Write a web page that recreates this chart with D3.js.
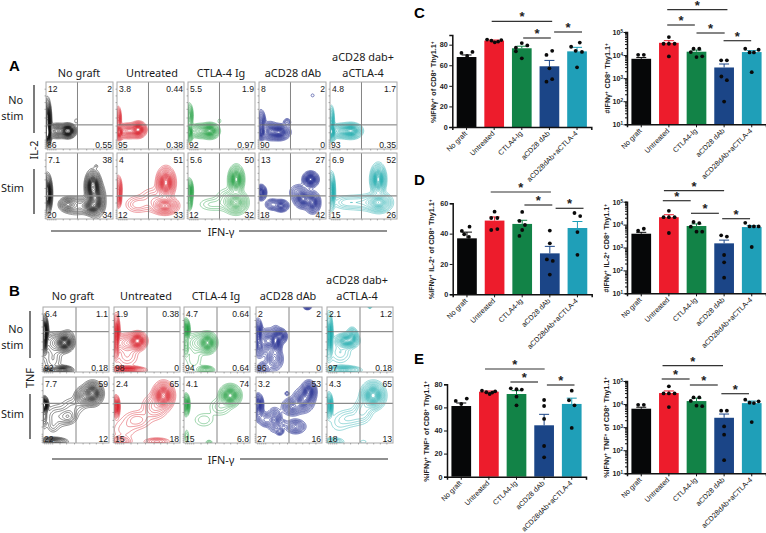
<!DOCTYPE html>
<html lang="en">
<head>
<meta charset="UTF-8">
<title>IFN-gamma T cell responses</title>
<script src="https://d3js.org/d3.v7.min.js"></script>
<style>
  body { margin: 0; background: #fff; }
  svg { display: block; }
  text { font-family: "Liberation Sans", Arial, sans-serif; fill: #1a1a1a; }
  .head { font-family: "Noto Sans", sans-serif; font-size: 10.9px; }
  .pct { font-size: 8.6px; }
  .letter { font-size: 15px; font-weight: 700; fill: #000; }
  .tick text, .ylab { font-size: 7.2px; font-weight: 700; fill: #222; }
  .cat .tick text { font-size: 7.2px; font-weight: 400; fill: #111; }
  .star { font-size: 13px; font-weight: 700; text-anchor: middle; fill: #222; }
</style>
</head>
<body>
<script>
// ---- flow cytometry panels ----
const facsGroups = ['No graft', 'Untreated', 'CTLA-4 Ig', 'aCD28 dAb', 'aCTLA-4'];
const facsColors = ['#111111', '#d9232e', '#25a044', '#2f3796', '#1faaac'];

// quadrant percentages: top left, top right, bottom left, bottom right
const aNoStimPct = [['12','2','86','0.55'],['3.8','0.44','95','0.38'],['5.5','1.9','92','0.97'],['8','2','90','0'],['4.8','1.7','93','0.35']];
const aStimPct = [['7.1','38','20','34'],['4','51','12','33'],['5.6','50','12','32'],['13','27','18','42'],['6.9','52','15','26']];
const bNoStimPct = [['6.4','1.1','92','0.18'],['1.9','0.38','98','0'],['4.7','0.64','94','0.64'],['2','2','96','0'],['2.1','1.2','97','0.18']];
const bStimPct = [['7.7','59','22','12'],['2.4','65','15','18'],['4.1','74','15','6.8'],['3.2','53','27','16'],['4.3','65','18','13']];

// density peaks: [x, y, spread x, spread y, height], axes 0-1
const aNoStimPeaks = [
  [[.02,.4,.025,.14,1.4],[.02,.22,.025,.06,1],[.33,.27,.05,.045,1.2],[.17,.27,.08,.05,.5],[.45,.42,.02,.03,.05]],
  [[.02,.45,.02,.08,.5],[.03,.25,.03,.05,.9],[.32,.29,.05,.05,1],[.17,.27,.08,.05,.55]],
  [[.02,.5,.025,.08,.5],[.02,.25,.025,.06,.8],[.33,.27,.06,.05,.9],[.18,.27,.08,.05,.4],[.47,.42,.02,.03,.05]],
  [[.03,.4,.03,.08,.5],[.03,.25,.03,.05,.7],[.3,.25,.07,.05,.9],[.16,.27,.06,.06,.5],[.42,.4,.03,.03,.15],[.8,.8,.025,.025,.045]],
  [[.02,.42,.02,.1,.5],[.02,.25,.03,.06,.9],[.32,.27,.07,.05,.9],[.17,.27,.08,.05,.45]]
];
const aStimPeaks = [
  [[.02,.38,.03,.12,1.4],[.32,.22,.06,.05,.4],[.7,.5,.05,.1,1.1],[.68,.2,.07,.06,.7],[.75,.3,.06,.12,.6],[.45,.2,.1,.07,.2],[.75,.8,.02,.02,.05]],
  [[.02,.45,.025,.09,.5],[.02,.3,.02,.06,.4],[.73,.55,.06,.1,1],[.72,.2,.09,.06,.6],[.55,.3,.12,.1,.12],[.3,.22,.1,.07,.12]],
  [[.02,.42,.025,.08,.8],[.02,.25,.02,.06,.3],[.72,.6,.05,.09,1],[.72,.25,.08,.08,.6],[.58,.3,.1,.1,.1],[.35,.22,.12,.06,.08]],
  [[.03,.4,.035,.05,.8],[.33,.2,.05,.04,.6],[.2,.22,.05,.04,.3],[.77,.6,.05,.05,1],[.66,.3,.06,.06,.8],[.8,.25,.05,.07,.8],[.6,.4,.07,.06,.25]],
  [[.02,.42,.025,.12,.9],[.72,.6,.05,.1,1],[.73,.25,.09,.07,.6],[.5,.25,.12,.07,.12],[.25,.25,.12,.06,.12]]
];
const bNoStimPeaks = [
  [[.02,.62,.025,.1,1.4],[.02,.42,.02,.08,.5],[.33,.45,.06,.06,.9],[.2,.45,.1,.08,.25],[.15,.2,.08,.12,.1],[.3,.03,.07,.03,.6],[.1,.02,.08,.02,.3],[.38,.55,.05,.06,.1]],
  [[.03,.6,.025,.12,1],[.03,.35,.02,.08,.3],[.36,.48,.06,.06,1],[.2,.45,.1,.07,.3],[.2,.25,.1,.1,.1],[.2,.03,.12,.025,.8]],
  [[.03,.65,.025,.07,1],[.03,.4,.02,.08,.25],[.36,.45,.06,.07,.9],[.22,.45,.1,.08,.2],[.15,.2,.08,.12,.07],[.33,.03,.06,.03,.4]],
  [[.03,.6,.03,.09,.8],[.05,.4,.04,.08,.5],[.3,.48,.04,.09,.9],[.38,.55,.04,.05,.6],[.18,.48,.07,.08,.6],[.28,.2,.06,.08,.4],[.12,.05,.05,.05,.3],[.78,1,.03,.02,.3]],
  [[.03,.55,.025,.15,1],[.3,.48,.08,.05,.8],[.38,.55,.04,.06,.5],[.2,.3,.1,.1,.1],[.25,.03,.12,.03,.5],[.65,1,.02,.015,.1]]
];
const bStimPeaks = [
  [[.02,.58,.025,.05,1.5],[.02,.42,.02,.1,.2],[.75,.75,.07,.08,.9],[.6,.7,.06,.07,.35],[.38,.4,.07,.06,.2],[.2,.4,.1,.1,.12],[.15,.25,.05,.06,.06],[.15,.02,.1,.03,.5],[.45,.55,.1,.08,.1]],
  [[.03,.55,.025,.07,1],[.75,.72,.07,.09,1],[.62,.55,.1,.1,.2],[.35,.35,.12,.08,.12],[.15,.2,.12,.1,.06],[.65,.02,.1,.03,.2],[.1,.02,.08,.04,.25]],
  [[.03,.58,.025,.07,.9],[.7,.72,.07,.07,1],[.55,.55,.1,.08,.1],[.3,.35,.1,.07,.07],[.04,.1,.02,.06,.1],[.38,.01,.03,.02,.1]],
  [[.03,.58,.035,.07,.9],[.05,.42,.04,.05,.3],[.72,.65,.07,.08,.7],[.8,.78,.05,.07,.8],[.55,.55,.07,.06,.5],[.28,.35,.05,.08,.5],[.15,.35,.05,.05,.3],[.6,.25,.07,.05,.4],[.36,.18,.03,.03,.25],[.47,.75,.02,.02,.1],[.42,.3,.03,.03,.1]],
  [[.03,.57,.025,.08,.9],[.7,.72,.08,.09,1],[.55,.5,.08,.1,.15],[.36,.38,.12,.08,.1],[.18,.3,.1,.1,.05],[.55,.02,.04,.02,.05],[.1,.02,.08,.03,.2]]
];
const contourLevels = [.03, .05, .075, .1, .14, .18, .23, .28, .33, .38, .42, .46, .5, .54, .58, .62, .66, .7, .74, .78, .82, .86, .9, .94, 1, 1.1, 1.2, 1.3];
const facsTicks = [.02, .05, .08, .11, .14, .25, .35, .47, .6, .7, .8, .9];

// ---- bar charts ----
const categories = ['No graft', 'Untreated', 'CTLA4-Ig', 'aCD28 dAb', 'aCD28dAb+aCTLA-4'];
const barColors = ['#060708', '#ed1c2c', '#128347', '#1b4587', '#1f9fb8'];

const cPctMeans = [68, 84, 76.5, 59, 73.5];
const cPctTops = [70, 84.5, 78.5, 64.7, 77.4];
const cPctPoints = [
  [[72,-.26],[69,.03],[73,.3]],
  [[85,-.36],[84,-.14],[82.3,.03],[83,.2],[84.5,.36]],
  [[77,-.3],[81.6,0],[79.3,.28],[73.5,-.3],[66.7,0]],
  [[70,-.15],[74,.14],[57,0],[44,-.15],[46.5,.14]],
  [[78,-.3],[82,.14],[74,-.07],[73,.25],[58,0]]
];
const cNumMeans = [6900, 34000, 14000, 2900, 13500];
const cNumTops = [7800, 42000, 16500, 4100, 15600];
const cNumPoints = [
  [[10300,-.16],[10300,.13]],
  [[60000,0],[31000,-.27],[31000,0],[31000,.29],[8700,0]],
  [[18800,-.15],[18800,.14],[13500,-.29],[8200,0],[8800,.29]],
  [[5900,-.15],[5900,.14],[1180,-.14],[820,.14],[97,0]],
  [[18800,-.33],[13000,-.11],[13000,.11],[17000,.35],[1820,0]]
];
const dPctMeans = [36.9, 48.6, 46.4, 27, 43.7];
const dPctTops = [41, 51, 48.8, 31.6, 48];
const dPctPoints = [
  [[41.8,-.26],[44.6,.13],[39.6,-.14],[37.8,.1]],
  [[54.5,0],[50.3,-.17],[50.3,.14],[42.4,-.17],[43,.14]],
  [[54.3,0],[48.4,-.14],[45.7,.14],[42.4,0],[38.5,-.14]],
  [[42,0],[33.6,0],[23,-.15],[22,.15],[13,0]],
  [[53.6,-.15],[51.6,.14],[41,0],[26,0]]
];
const dNumMeans = [4000, 21000, 8700, 1520, 7800];
const dNumTops = [4600, 27000, 10700, 2100, 9000];
const dNumPoints = [
  [[5400,-.16],[6600,.13]],
  [[40000,0],[21000,-.27],[21000,0],[21000,.29],[4300,0]],
  [[13000,-.15],[11700,.14],[8100,-.29],[4900,0],[4900,.29]],
  [[3400,-.15],[3000,.14],[470,0],[225,0],[48,0]],
  [[12000,-.33],[8300,-.11],[8300,.11],[8300,.35],[1050,0]]
];
const ePctMeans = [61.2, 73.6, 71.6, 44.5, 63];
const ePctTops = [63.8, 74.2, 74.5, 54, 68];
const ePctPoints = [
  [[65.6,-.28],[67.6,.28],[63,0]],
  [[74.5,-.35],[73.1,-.13],[71.6,.04],[72.8,.17],[73.9,.32]],
  [[76.5,-.29],[75.7,0],[75.4,.27],[69.3,0],[61.8,0]],
  [[66.4,0],[61.2,0],[50,0],[26.6,0],[16.8,0]],
  [[74.5,0],[66.2,-.14],[61.8,.14],[42.2,0]]
];
const eNumMeans = [6300, 30000, 13500, 2550, 11000];
const eNumTops = [7300, 37000, 18000, 3700, 13500];
const eNumPoints = [
  [[9300,-.16],[9300,.13]],
  [[59000,0],[29000,-.27],[29000,0],[29000,.29],[7400,0]],
  [[19500,-.15],[19500,.14],[13700,-.29],[8500,0],[8100,.29]],
  [[5200,-.15],[5200,.14],[1070,0],[470,0],[37,0]],
  [[15500,-.33],[11500,-.11],[11000,.11],[13200,.35],[1660,0]]
];

const width = 766, height = 533;
const svg = d3.select('body').append('svg').attr('width', width).attr('height', height);
// the source figure is a soft raster, so the contour lines get a touch of blur
svg.append('filter').attr('id', 'soft').append('feGaussianBlur').attr('stdDeviation', .25);

function facsPlot(x0, y0, w, h, color, peaks, pcts, hy, vx, thick, heavyLine) {
  const g = svg.append('g');
  const sx = d3.scaleLinear().domain([0, 1]).range([x0, x0 + w]);
  const sy = d3.scaleLinear().domain([0, 1]).range([y0 + h, y0]);

  // density grid from the peaks, then real contours through it
  const n = 90;
  const grid = new Float64Array(n * n);
  for (let j = 0; j < n; j++) {
    for (let i = 0; i < n; i++) {
      const px = (i + .5) / n, py = (j + .5) / n;
      let sum = 0;
      peaks.forEach(p => {
        const dx = (px - p[0]) / p[2], dy = (py - p[1]) / p[3];
        sum += p[4] * Math.exp(-(dx * dx + dy * dy) / 2);
      });
      grid[i + j * n] = sum;
    }
  }
  const contours = d3.contours().size([n, n]).thresholds(contourLevels)(grid);
  const proj = d3.geoTransform({ point(x, y) { this.stream.point(sx(x / n), sy(y / n)); } });
  const clipId = 'c' + Math.round(x0) + '_' + Math.round(y0);
  g.append('clipPath').attr('id', clipId).append('rect')
    .attr('x', x0).attr('y', y0).attr('width', w).attr('height', h);
  g.append('g').attr('clip-path', `url(#${clipId})`)
    .append('g').attr('filter', 'url(#soft)')
    .selectAll('path').data(contours).enter().append('path')
    .attr('d', d3.geoPath(proj))
    .attr('fill', 'none')
    .attr('stroke', color)
    .attr('stroke-opacity', .9)
    .attr('stroke-width', thick ? .7 : .5);

  g.append('line').attr('x1', sx(0)).attr('x2', sx(1)).attr('y1', sy(hy)).attr('y2', sy(hy))
    .attr('stroke', heavyLine ? '#8a8a8a' : '#666').attr('stroke-width', heavyLine ? 1.4 : .9);
  g.append('line').attr('x1', sx(vx)).attr('x2', sx(vx)).attr('y1', sy(0)).attr('y2', sy(1))
    .attr('stroke', '#777').attr('stroke-width', .9);
  g.append('rect').attr('x', x0).attr('y', y0).attr('width', w).attr('height', h)
    .attr('fill', 'none').attr('stroke', '#a8a8a8').attr('stroke-width', 1);

  // little log ticks along the bottom and left edge
  const bottom = g.append('g').attr('transform', `translate(0,${y0 + h})`)
    .call(d3.axisBottom(sx).tickValues(facsTicks).tickSize(1.5).tickFormat(''));
  const left = g.append('g').attr('transform', `translate(${x0},0)`)
    .call(d3.axisLeft(sy).tickValues(facsTicks).tickSize(1.5).tickFormat(''));
  bottom.select('.domain').remove(); left.select('.domain').remove();
  g.selectAll('.tick line').attr('stroke', '#666').attr('stroke-width', .5);

  g.append('text').attr('class', 'pct').attr('x', x0 + 2).attr('y', y0 + 9.5).text(pcts[0]);
  g.append('text').attr('class', 'pct').attr('x', x0 + w - 1).attr('y', y0 + 9.5).attr('text-anchor', 'end').text(pcts[1]);
  g.append('text').attr('class', 'pct').attr('x', x0 + 1).attr('y', y0 + h - 1.5).text(pcts[2]);
  g.append('text').attr('class', 'pct').attr('x', x0 + w - 1).attr('y', y0 + h - 1.5).attr('text-anchor', 'end').text(pcts[3]);
}

function facsPanel(p) {
  p.xs.forEach((x0, k) => {
    facsPlot(x0, p.y1, p.w, p.h, facsColors[k], p.noStimPeaks[k], p.noStimPct[k], p.hy1, p.vx, k == 3, false);
    facsPlot(x0, p.y2, p.w, p.h2, facsColors[k], p.stimPeaks[k], p.stimPct[k], p.hy2, p.vx, k == 3, true);
    svg.append('text').attr('class', 'head').attr('x', p.headX[k]).attr('y', p.headY)
      .attr('text-anchor', 'middle').text(facsGroups[k]);
  });
  svg.append('text').attr('class', 'head').attr('x', p.headX[4]).attr('y', p.headY - 16.5)
    .attr('text-anchor', 'middle').text('aCD28 dab+');
  svg.append('text').attr('class', 'letter').attr('x', 9).attr('y', p.letterY).text(p.letter);

  svg.append('text').attr('class', 'head').attr('x', 23).attr('y', p.noY).attr('text-anchor', 'end').text('No');
  svg.append('text').attr('class', 'head').attr('x', 23.5).attr('y', p.noY + 16).attr('text-anchor', 'end').text('stim');
  svg.append('text').attr('class', 'head').attr('x', 24).attr('y', p.stimY).attr('text-anchor', 'end').text('Stim');
  svg.append('text').attr('class', 'head')
    .attr('transform', `translate(${p.sideX + 4},${p.sideY}) rotate(-90)`)
    .attr('text-anchor', 'middle').text(p.side);

  p.vbars.forEach(b => {
    svg.append('line').attr('x1', p.sideX).attr('x2', p.sideX).attr('y1', b[0]).attr('y2', b[1])
      .attr('stroke', '#222').attr('stroke-width', 1.2);
  });
  p.hbars.forEach(b => {
    svg.append('line').attr('x1', b[0]).attr('x2', b[1]).attr('y1', p.bottomY).attr('y2', p.bottomY)
      .attr('stroke', '#222').attr('stroke-width', 1.2);
  });
  svg.append('text').attr('class', 'head').attr('x', p.ifnX).attr('y', p.bottomY + 4.5)
    .attr('text-anchor', 'middle').text('IFN-γ');
}

facsPanel({
  letter: 'A', letterY: 71, xs: [46, 117, 188, 259, 330], w: 67, y1: 82, h: 67, y2: 153, h2: 66,
  hy1: .36, hy2: .35, vx: .47, noStimPeaks: aNoStimPeaks, stimPeaks: aStimPeaks, noStimPct: aNoStimPct, stimPct: aStimPct,
  headX: [79, 152, 221, 293, 363], headY: 77, noY: 104, stimY: 192, side: 'IL-2', sideX: 34, sideY: 150,
  vbars: [[85, 133], [169, 214]], hbars: [[51, 201], [239, 387]], bottomY: 231, ifnX: 221
});
facsPanel({
  letter: 'B', letterY: 296, xs: [43, 114, 184, 256, 327], w: 66, y1: 307, h: 65, y2: 377, h2: 66,
  hy1: .62, hy2: .6, vx: .5, noStimPeaks: bNoStimPeaks, stimPeaks: bStimPeaks, noStimPct: bNoStimPct, stimPct: bStimPct,
  headX: [73, 146, 216, 288, 357], headY: 300, noY: 333, stimY: 418, side: 'TNF', sideX: 30, sideY: 378,
  vbars: [[311, 358], [394, 439]], hbars: [[52, 202], [240, 388]], bottomY: 459, ifnX: 221
});

function barChart(c) {
  const g = svg.append('g');
  const x = d3.scaleBand().domain(categories).range([c.axisX, c.axisX + 139])
    .paddingInner(.287).paddingOuter(.16);
  const y = c.log
    ? d3.scaleLog().domain([10, 1e5]).range([c.base, c.top])
    : d3.scaleLinear().domain([0, c.max]).range([c.base, c.top]);
  const center = i => x(categories[i]) + x.bandwidth() / 2;
  const step = x.step();

  g.selectAll('.bar').data(c.means).enter().append('rect').attr('class', 'bar')
    .attr('x', (d, i) => x(categories[i])).attr('width', x.bandwidth())
    .attr('y', d => y(d)).attr('height', d => c.base - y(d))
    .attr('fill', (d, i) => barColors[i]);

  // upper error whiskers
  c.tops.forEach((t, i) => {
    g.append('path')
      .attr('d', `M${center(i)},${y(c.means[i])}V${y(t)}M${center(i) - 5},${y(t)}H${center(i) + 5}`)
      .attr('fill', 'none').attr('stroke', barColors[i]).attr('stroke-width', 1);
  });

  c.points.forEach((pts, i) => {
    g.selectAll(null).data(pts).enter().append('circle')
      .attr('cx', d => center(i) + d[1] * x.bandwidth())
      .attr('cy', d => y(d[0])).attr('r', 1.9).attr('fill', '#0a0a0a');
  });

  const xAxis = g.append('g').attr('class', 'cat').attr('transform', `translate(0,${c.base})`)
    .call(d3.axisBottom(x).tickSize(3));
  xAxis.selectAll('text').style('text-anchor', 'end')
    .attr('x', -4.25).attr('y', 5.65).attr('dy', 0).attr('transform', 'rotate(-45)');

  let yAxis;
  if (c.log) {
    const ticks = [];
    [1, 2, 3, 4].forEach(e => d3.range(1, 10).forEach(m => ticks.push(m * 10 ** e)));
    ticks.push(1e5);
    yAxis = g.append('g').attr('transform', `translate(${c.axisX},0)`)
      .call(d3.axisLeft(y).tickValues(ticks).tickSize(2).tickPadding(1.5).tickFormat(''));
    yAxis.selectAll('.tick').filter(d => Math.abs(Math.log10(d) % 1) < 1e-9).each(function (d) {
      const t = d3.select(this);
      t.select('line').attr('x2', -3.5);
      const label = t.select('text').attr('x', -4).text('10');
      label.append('tspan').attr('dy', -2).style('font-size', '4.6px').text(Math.round(Math.log10(d)));
    });
  } else {
    yAxis = g.append('g').attr('transform', `translate(${c.axisX},0)`)
      .call(d3.axisLeft(y).tickValues(c.ticks).tickSize(3).tickPadding(1.5).tickFormat(d3.format('d')));
  }
  g.selectAll('.domain').attr('stroke', '#111').attr('stroke-width', 1.5);
  g.selectAll('.tick line').attr('stroke', '#111').attr('stroke-width', 1);

  const lab = g.append('text').attr('class', 'ylab')
    .attr('transform', `translate(${c.labX},${c.labY}) rotate(-90)`)
    .attr('text-anchor', 'middle');
  c.label.forEach(part => {
    lab.append('tspan').text(part[0]);
    if (part[1]) {
      lab.append('tspan').attr('dy', -2).style('font-size', '4.8px').text(part[1]);
      lab.append('tspan').attr('dy', 2).text('\u200a');
    }
  });

  // significance lines, from/to given in bar positions
  c.sig.forEach((s, k) => {
    const xa = center(0) + s[0] * step, xb = center(0) + s[1] * step, ly = c.sigY[k];
    g.append('line').attr('x1', xa).attr('x2', xb).attr('y1', ly).attr('y2', ly)
      .attr('stroke', '#333').attr('stroke-width', 1.2);
    g.append('text').attr('class', 'star').attr('x', (xa + xb) / 2).attr('y', ly).text('*');
  });
}

barChart({ axisX: 452.3, base: 127, top: 35, max: 89.4, ticks: [0, 20, 40, 60, 80], means: cPctMeans, tops: cPctTops, points: cPctPoints,
  labX: 436, labY: 82, label: [['%IFNγ', '+'], [' of CD8', '+'], [' Thy1.1', '+']],
  sig: [[.91, 3.1], [2.05, 3.05], [3.17, 4.18]], sigY: [21.3, 38, 32] });
barChart({ axisX: 627, base: 124.3, top: 32, log: true, means: cNumMeans, tops: cNumTops, points: cNumPoints,
  labX: 610, labY: 78, label: [['#IFNγ', '+'], [' CD8', '+'], [' Thy1.1', '+']],
  sig: [[.94, 3.12], [.94, 1.94], [2, 3.02], [2.98, 3.98]], sigY: [9.7, 25, 33, 40.7] });
barChart({ axisX: 452.7, base: 294.3, top: 203.3, max: 60, ticks: [0, 20, 40, 60], means: dPctMeans, tops: dPctTops, points: dPctPoints,
  labX: 434, labY: 249, label: [['%IFNγ', '+'], [' IL-2', '+'], [' of CD8', '+'], [' Thy1.1', '+']],
  sig: [[.86, 3.04], [2.08, 3.09], [3.21, 4.22]], sigY: [192, 205, 208.3] });
barChart({ axisX: 627, base: 293.3, top: 201.7, log: true, means: dNumMeans, tops: dNumTops, points: dNumPoints,
  labX: 609, labY: 248, label: [['#IFNγ', '+'], [' IL-2', '+'], [' CD8', '+'], [' Thy1.1', '+']],
  sig: [[.82, 3.0], [.78, 1.79], [1.8, 2.81], [2.93, 3.94]], sigY: [190.7, 200.7, 213.3, 218.7] });
barChart({ axisX: 447, base: 476.7, top: 384.3, max: 80, ticks: [0, 20, 40, 60, 80], means: ePctMeans, tops: ePctTops, points: ePctPoints,
  labX: 429, labY: 431, label: [['%IFNγ', '+'], [' TNF', '+'], [' of CD8', '+'], [' Thy1.1', '+']],
  sig: [[.86, 3.02], [1.78, 2.78], [3.1, 4.1]], sigY: [369, 382, 385] });
barChart({ axisX: 627, base: 473.3, top: 381, log: true, means: eNumMeans, tops: eNumTops, points: eNumPoints,
  labX: 609, labY: 427, label: [['%IFNγ', '+'], [' TNF', '+'], [' of CD8', '+'], [' Thy1.1', '+']],
  sig: [[.77, 2.96], [.74, 1.75], [1.76, 2.77], [2.9, 3.9]], sigY: [365.7, 379, 385, 393.7] });

[['C', 18], ['D', 185], ['E', 364]].forEach(d => {
  svg.append('text').attr('class', 'letter').attr('x', 414).attr('y', d[1]).text(d[0]);
});
</script>
</body>
</html>
